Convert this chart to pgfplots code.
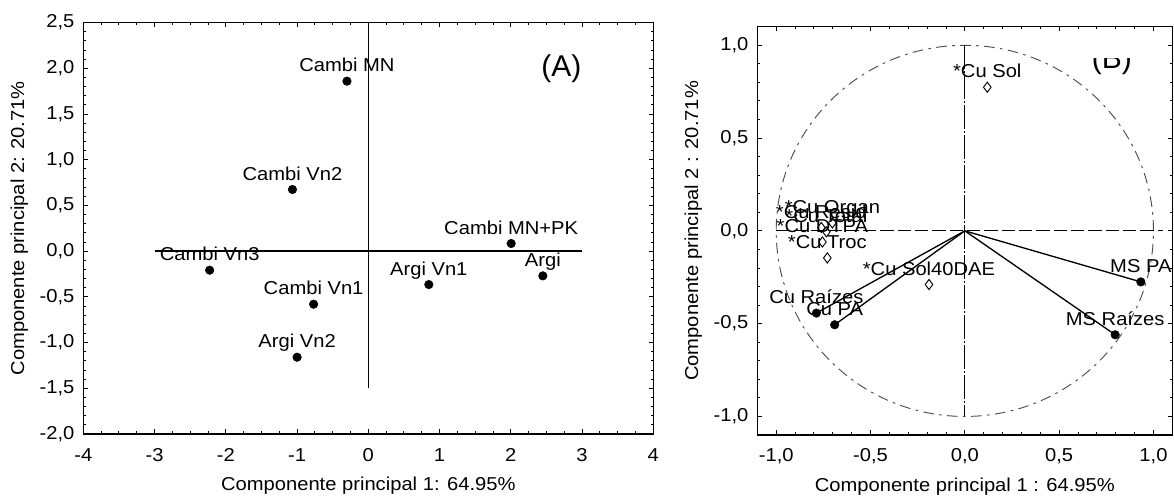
\documentclass[border=0pt]{standalone}
\usepackage{fontspec}
\setmainfont{Liberation Sans}[FakeStretch=1.08]
\newfontfamily\panelfont{Liberation Sans}
\usepackage{pgfplots}
\pgfplotsset{compat=1.18}

\newcommand\lblfont{\fontsize{14}{16}\selectfont}

\pgfplotsset{
  pca/.style={
    scale only axis,
    clip=false,
    axis line style={line width=1pt},
    tick style={black, line width=0.7pt},
    major tick length=3.5pt,
    minor tick length=2pt,
    tick align=inside,
    font=\lblfont,
    xticklabel style={anchor=center, yshift=-15.75pt},
    yticklabel style={anchor=east, inner sep=0pt, xshift=-6.5pt},
    every axis x label/.style={at={([yshift=-39pt]axis description cs:0.5,0)}, anchor=center},
    every axis y label/.style={at={([xshift=-48pt]axis description cs:0,0.5)}, anchor=center, rotate=90},
  },
  pts/.style={
    only marks, black,
    nodes near coords,
    point meta=explicit symbolic,
    nodes near coords align={anchor=base},
    every node near coord/.append style={yshift=7pt, font=\lblfont, inner sep=0pt},
  },
}

\begin{document}
\begin{tikzpicture}
\path[use as bounding box] (0,0) rectangle (880.5pt,372pt);

% ---- panel A: scores
\begin{axis}[pca,
  at={(62.5pt,46.5pt)}, anchor=south west,
  width=427.5pt, height=308.5pt,
  xmin=-4, xmax=4, ymin=-2, ymax=2.5,
  xtick={-4,-3,-2,-1,0,1,2,3,4},
  xticklabels={-4,-3,-2,-1,0,1,2,3,4},
  ytick={-2,-1.5,-1,-0.5,0,0.5,1,1.5,2,2.5},
  yticklabels={{-2,0},{-1,5},{-1,0},{-0,5},{0,0},{0,5},{1,0},{1,5},{2,0},{2,5}},
  minor x tick num=3, minor y tick num=4,
  xlabel={Componente principal 1: 64.95\%},
  ylabel={Componente principal 2: 20.71\%},
]
\draw[line width=1.1pt] (axis cs:-3,0) -- (axis cs:3,0);
\draw[line width=1.1pt] (axis cs:0,-1.5) -- (axis cs:0,2.5);
\addplot[pts, mark=*, mark size=3.2pt] coordinates {
  (-0.30,1.86) [Cambi MN]
  (-1.065,0.675) [Cambi Vn2]
  (2.005,0.084) [Cambi MN+PK]
  (-2.227,-0.208) [Cambi Vn3]
  (0.849,-0.365) [Argi Vn1]
  (2.449,-0.27) [Argi]
  (-0.768,-0.58) [Cambi Vn1]
  (-1.0,-1.16) [Argi Vn2]
};
\node[font=\panelfont\fontsize{22.5}{24}\selectfont] at (axis cs:2.71,2.0) {(A)};
\end{axis}

% ---- panel B: loadings
\begin{axis}[pca,
  at={(568pt,45.75pt)}, anchor=south west,
  width=311.25pt, height=306.2pt,
  xmin=-1.1, xmax=1.1, ymin=-1.1, ymax=1.1,
  xtick={-1,-0.5,0,0.5,1},
  xticklabels={{-1,0},{-0,5},{0,0},{0,5},{1,0}},
  ytick={-1,-0.5,0,0.5,1},
  yticklabels={{-1,0},{-0,5},{0,0},{0,5},{1,0}},
  minor x tick num=4, minor y tick num=4,
  xlabel={Componente principal 1 : 64.95\%},
  ylabel={Componente principal 2 : 20.71\%},
]
\draw[black!70, line width=0.7pt, dash pattern=on 8pt off 4pt on 2pt off 4pt]
  (axis cs:0,0) ellipse [x radius=1, y radius=1];
\draw[black, line width=0.9pt, dash pattern=on 10pt off 3pt] (axis cs:-1,0) -- (axis cs:1.05,0);
\draw[black, line width=0.9pt, dash pattern=on 18pt off 1.5pt on 1.5pt off 1.5pt] (axis cs:0,1) -- (axis cs:0,-1);
\addplot[black, line width=1pt] coordinates {(0,0) (0.933,-0.275)};
\addplot[black, line width=1pt] coordinates {(0,0) (0.797,-0.56)};
\addplot[black, line width=1pt] coordinates {(0,0) (-0.69,-0.506)};
\addplot[black, line width=1pt] coordinates {(0,0) (-0.787,-0.443)};
\addplot[pts, mark=*, mark size=3.2pt] coordinates {
  (0.933,-0.275) [MS PA]
  (0.797,-0.56) [MS Raízes]
  (-0.69,-0.506) [Cu PA]
  (-0.787,-0.443) [Cu Raízes]
};
\addplot[pts, mark=diamond, mark size=3.8pt, mark options={fill=white, line width=0.7pt}] coordinates {
  (0.119,0.774) [*Cu Sol]
  (-0.19,-0.289) [*Cu Sol40DAE]
  (-0.702,0.043) [*Cu Organ]
  (-0.761,0.018) [*Cu Resid]
  (-0.734,-0.005) [*Cu Total]
  (-0.755,-0.06) [*Cu DTPA]
  (-0.729,-0.146) [*Cu Troc]
};
\begin{scope}
\clip (axis cs:0.5,0.93) rectangle (axis cs:1.05,0.75);
\node[font=\panelfont\fontsize{22.5}{24}\selectfont] at (axis cs:0.78,0.915) {(B)};
\end{scope}
\end{axis}
\end{tikzpicture}
\end{document}
